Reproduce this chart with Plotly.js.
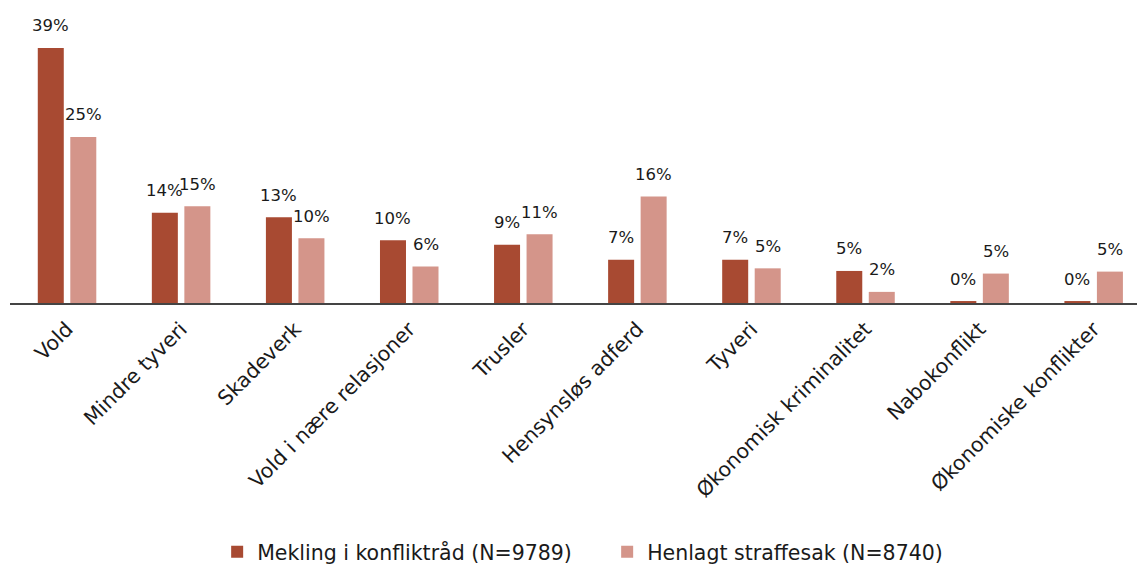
<!DOCTYPE html>
<html><head><meta charset="utf-8">
<script src="https://cdn.plot.ly/plotly-3.0.1.min.js"></script>
<style>body{margin:0;background:#fff}#c{width:1137px;height:566px}</style>
</head><body><div id="c"></div>
<script>
const categories = ["Vold","Mindre tyveri","Skadeverk","Vold i nære relasjoner","Trusler","Hensynsløs adferd","Tyveri","Økonomisk kriminalitet","Nabokonflikt","Økonomiske konflikter"];
const mekling = [39.0, 13.8, 13.1, 9.6, 8.9, 6.6, 6.6, 4.9, 0.3, 0.3];
const henlagt = [25.4, 14.8, 9.9, 5.6, 10.5, 16.3, 5.3, 1.7, 4.5, 4.8];
const seriesNames = ["Mekling i konfliktråd (N=9789)", "Henlagt straffesak (N=8740)"];
const colors = ["#A84A32", "#D4958A"];

const font = "DejaVu Sans, sans-serif";
const traces = [mekling, henlagt].map((vals, i) => ({
  type: "bar", x: categories, y: vals, name: seriesNames[i],
  marker: {color: colors[i]}, hoverinfo: "skip"
}));

const annotations = [];
[mekling, henlagt].forEach((vals, i) => {
  vals.forEach((v, j) => {
    annotations.push({
      x: categories[j], y: v, xref: "x", yref: "y",
      text: Math.round(v) + "%", showarrow: false,
      xshift: (i === 0 ? -16.5 : 16.5), yshift: 22, yanchor: "middle",
      font: {family: font, size: 16.5, color: "#1a1a1a"}
    });
  });
});

const layout = {
  width: 1137, height: 566,
  margin: {l: 10, r: 0, t: 10, b: 263},
  paper_bgcolor: "#fff", plot_bgcolor: "#fff",
  barmode: "group", bargap: 0.43, bargroupgap: 0.2,
  xaxis: {
    type: "category", range: [-0.5, 9.38], tickangle: -45,
    showline: true, linecolor: "#444", linewidth: 2, ticks: "",
    ticklabelstandoff: 4,
    showgrid: false, zeroline: false,
    tickfont: {family: font, size: 20.5, color: "#1a1a1a"}
  },
  yaxis: {range: [0, 44.8], visible: false, showgrid: false, zeroline: false},
  showlegend: true,
  legend: {
    orientation: "h", xref: "container", yref: "container",
    x: 0.534, xanchor: "center", y: 0.025, yanchor: "middle",
    entrywidth: 345,
    font: {family: font, size: 20.5, color: "#1a1a1a"}
  },
  annotations: annotations
};
Plotly.newPlot("c", traces, layout, {displayModeBar: false, staticPlot: true});
</script></body></html>
